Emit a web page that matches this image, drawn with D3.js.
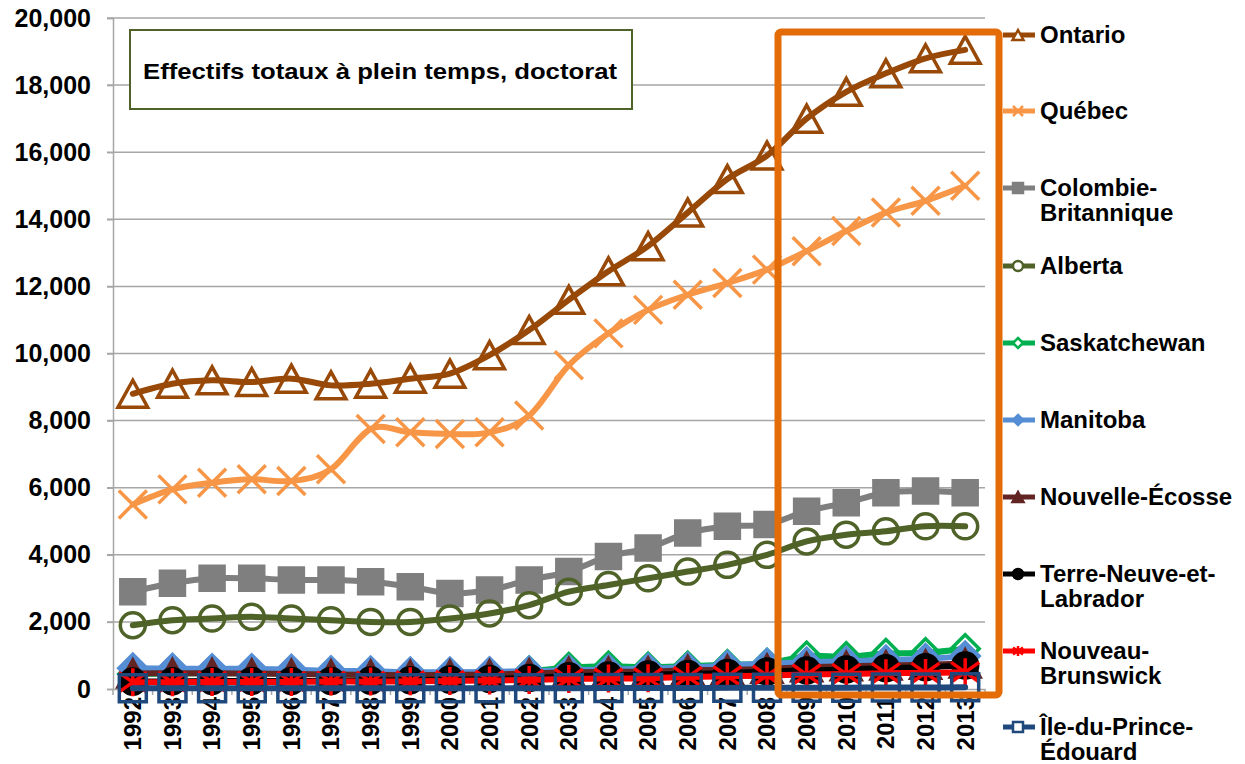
<!DOCTYPE html>
<meta charset="utf-8">
<script src="https://d3js.org/d3.v7.min.js"></script>
<style>
  body { margin: 0; background: #fff; }
  text { font-family: "Liberation Sans", Arial, sans-serif; font-weight: bold; }
</style>
<body></body>
<script>
  var years = ["1992","1993","1994","1995","1996","1997","1998","1999","2000","2001","2002",
               "2003","2004","2005","2006","2007","2008","2009","2010","2011","2012","2013"];
  var yTicks = [0, 2000, 4000, 6000, 8000, 10000, 12000, 14000, 16000, 18000, 20000];

  var ontario      = [8800,9100,9200,9150,9250,9050,9100,9250,9400,9950,10700,11600,12450,13200,14200,15200,15900,17000,17800,18350,18800,19050];
  var quebec       = [5500,5950,6150,6250,6200,6550,7750,7650,7600,7650,8150,9650,10600,11300,11750,12100,12500,13050,13650,14200,14550,15000];
  var colombie     = [2900,3150,3300,3300,3250,3250,3200,3050,2850,2950,3250,3500,3950,4200,4650,4850,4900,5300,5550,5850,5900,5850];
  var alberta      = [1900,2050,2100,2150,2100,2050,2000,2000,2100,2250,2500,2900,3100,3300,3500,3700,4000,4400,4600,4700,4850,4850];
  var saskatchewan = [450,460,470,470,460,440,430,420,430,470,530,640,680,650,680,720,760,980,960,1060,1080,1200];
  var manitoba     = [620,610,600,600,580,540,530,500,500,510,530,560,580,610,640,700,760,800,820,860,900,980];
  var nouvelleEcosse = [460,470,470,460,450,430,420,410,420,430,460,500,510,520,560,570,600,650,680,700,720,760];
  var terreNeuve   = [220,230,240,240,240,240,250,260,280,300,330,380,400,430,450,480,520,550,580,620,650,700];
  var nouveauBrunswick = [200,200,210,210,210,220,220,230,240,250,270,300,310,320,360,380,400,430,450,470,480,500];
  var ipe          = [20,20,20,20,20,20,20,20,20,20,25,25,30,30,30,35,35,40,40,45,45,50];

  var series = [
    {name: ["Ontario"], values: ontario, color: "#984807", marker: "triangle", fill: "none", ly: 35},
    {name: ["Québec"], values: quebec, color: "#f79646", marker: "x", fill: "none", ly: 111},
    {name: ["Colombie-", "Britannique"], values: colombie, color: "#7f7f7f", marker: "square", fill: "#7f7f7f", ly: 188},
    {name: ["Alberta"], values: alberta, color: "#4f6228", marker: "circle", fill: "none", ly: 266},
    {name: ["Saskatchewan"], values: saskatchewan, color: "#00b050", marker: "diamond", fill: "none", ly: 343},
    {name: ["Manitoba"], values: manitoba, color: "#558ed5", marker: "diamond", fill: "#558ed5", ly: 420},
    {name: ["Nouvelle-Écosse"], values: nouvelleEcosse, color: "#632523", marker: "triangle", fill: "#632523", ly: 497},
    {name: ["Terre-Neuve-et-", "Labrador"], values: terreNeuve, color: "#000000", marker: "circle", fill: "#000000", ly: 574},
    {name: ["Nouveau-", "Brunswick"], values: nouveauBrunswick, color: "#ff0000", marker: "star", fill: "none", ly: 651},
    {name: ["Île-du-Prince-", "Édouard"], values: ipe, color: "#1f497d", marker: "square", fill: "none", ly: 727}
  ];

  var width = 1245, height = 764;
  var plot = {left: 113, right: 985, top: 18, bottom: 689};

  var svg = d3.select("body").append("svg")
    .attr("width", width)
    .attr("height", height);

  var xScale = d3.scaleBand()
    .domain(years)
    .range([plot.left, plot.right]);

  var yScale = d3.scaleLinear()
    .domain([0, 20000])
    .range([plot.bottom, plot.top]);

  // grid lines
  svg.append("g").selectAll("line")
    .data(yTicks.slice(1)).enter().append("line")
    .attr("x1", plot.left - 6).attr("x2", plot.right)
    .attr("y1", function(d) { return yScale(d); })
    .attr("y2", function(d) { return yScale(d); })
    .attr("stroke", "#a6a6a6").attr("stroke-width", 1.5);

  // y axis
  var yAxis = d3.axisLeft(yScale).tickValues(yTicks).tickSize(6).tickPadding(16)
    .tickFormat(d3.format(","));
  var gy = svg.append("g")
    .attr("transform", "translate(" + plot.left + ",0)")
    .call(yAxis);
  gy.select(".domain").attr("stroke", "#a6a6a6").attr("stroke-width", 1.5);
  gy.selectAll(".tick line").attr("stroke", "#a6a6a6").attr("stroke-width", 1.5);
  gy.selectAll("text").attr("font-size", 25).attr("fill", "#000");

  // x axis
  var xAxis = d3.axisBottom(xScale).tickSize(0).tickPadding(8);
  var gx = svg.append("g")
    .attr("transform", "translate(0," + plot.bottom + ")")
    .call(xAxis);
  gx.select(".domain").attr("stroke", "#a6a6a6").attr("stroke-width", 1.5);
  gx.selectAll("text")
    .attr("font-size", 24).attr("fill", "#000")
    .attr("transform", "rotate(-90)")
    .attr("text-anchor", "end")
    .attr("x", -8).attr("y", 0).attr("dy", "0.35em");
  // category boundary ticks
  gx.append("g").selectAll("line")
    .data(years.concat(["end"])).enter().append("line")
    .attr("x1", function(d, i) { return plot.left + i * xScale.step(); })
    .attr("x2", function(d, i) { return plot.left + i * xScale.step(); })
    .attr("y1", 0).attr("y2", 6)
    .attr("stroke", "#a6a6a6").attr("stroke-width", 1.5);

  function markerPath(type, s) {
    var h = s / 2;
    if (type === "triangle") return "M0," + (-h) + "L" + (h * 1.1) + "," + h + "L" + (-h * 1.1) + "," + h + "Z";
    if (type === "square") return "M" + (-h) + "," + (-h) + "H" + h + "V" + h + "H" + (-h) + "Z";
    if (type === "diamond") return "M0," + (-h) + "L" + h + ",0L0," + h + "L" + (-h) + ",0Z";
    if (type === "circle") return "M" + (-h) + ",0A" + h + "," + h + " 0 1,0 " + h + ",0A" + h + "," + h + " 0 1,0 " + (-h) + ",0Z";
    if (type === "x") return "M" + (-h) + "," + (-h) + "L" + h + "," + h + "M" + h + "," + (-h) + "L" + (-h) + "," + h;
    if (type === "star") return "M" + (-h) + "," + (-h * 0.7) + "L" + h + "," + (h * 0.7) +
      "M" + h + "," + (-h * 0.7) + "L" + (-h) + "," + (h * 0.7) + "M0," + (-h) + "V" + h;
    return "";
  }

  var markerSize = {triangle: 27, square: 24, diamond: 28, circle: 25, x: 28, star: 28};

  var line = d3.line()
    .x(function(d, i) { return xScale(years[i]) + xScale.bandwidth() / 2; })
    .y(function(d) { return yScale(d); })
    .curve(d3.curveCardinal.tension(0));

  series.forEach(function(s) {
    var g = svg.append("g");
    g.append("path")
      .attr("d", line(s.values))
      .attr("fill", "none")
      .attr("stroke", s.color)
      .attr("stroke-width", 6)
      .attr("stroke-linecap", "round");
    var sz = s.marker === "square" && s.fill === "none" ? 27 : markerSize[s.marker];
    g.selectAll(".m").data(s.values).enter().append("path")
      .attr("transform", function(d, i) {
        return "translate(" + (xScale(years[i]) + xScale.bandwidth() / 2) + "," + yScale(d) + ")";
      })
      .attr("d", markerPath(s.marker, sz))
      .attr("fill", s.fill)
      .attr("stroke", s.color)
      .attr("stroke-width", 3.5);
  });

  // title box
  svg.append("rect")
    .attr("x", 130).attr("y", 30).attr("width", 502).attr("height", 79)
    .attr("fill", "#fff").attr("stroke", "#4f6228").attr("stroke-width", 2);
  svg.append("text")
    .attr("x", 143).attr("y", 71).attr("dy", "0.35em")
    .attr("font-size", 22)
    .attr("textLength", 474).attr("lengthAdjust", "spacingAndGlyphs")
    .text("Effectifs totaux à plein temps, doctorat");

  // highlight box
  svg.append("rect")
    .attr("x", 778).attr("y", 32).attr("width", 221).attr("height", 663)
    .attr("rx", 3)
    .attr("fill", "none").attr("stroke", "#e36c09").attr("stroke-width", 7);

  // legend
  var legend = svg.append("g").selectAll("g")
    .data(series).enter().append("g")
    .attr("transform", function(d) { return "translate(0," + d.ly + ")"; });
  legend.append("line")
    .attr("x1", 1003).attr("x2", 1035).attr("y1", 0).attr("y2", 0)
    .attr("stroke", function(d) { return d.color; }).attr("stroke-width", 5);
  legend.append("path")
    .attr("transform", "translate(1018,0)")
    .attr("d", function(d) { return markerPath(d.marker, 10); })
    .attr("fill", function(d) { return d.fill === "none" ? "#fff" : d.fill; })
    .attr("stroke", function(d) { return d.color; })
    .attr("stroke-width", 2.5);
  legend.each(function(d) {
    var t = d3.select(this).append("text")
      .attr("x", 1040).attr("y", 0).attr("font-size", 24).attr("fill", "#000");
    d.name.forEach(function(n, i) {
      t.append("tspan").attr("x", 1040).attr("dy", i === 0 ? "0.35em" : 25).text(n);
    });
  });
</script>
